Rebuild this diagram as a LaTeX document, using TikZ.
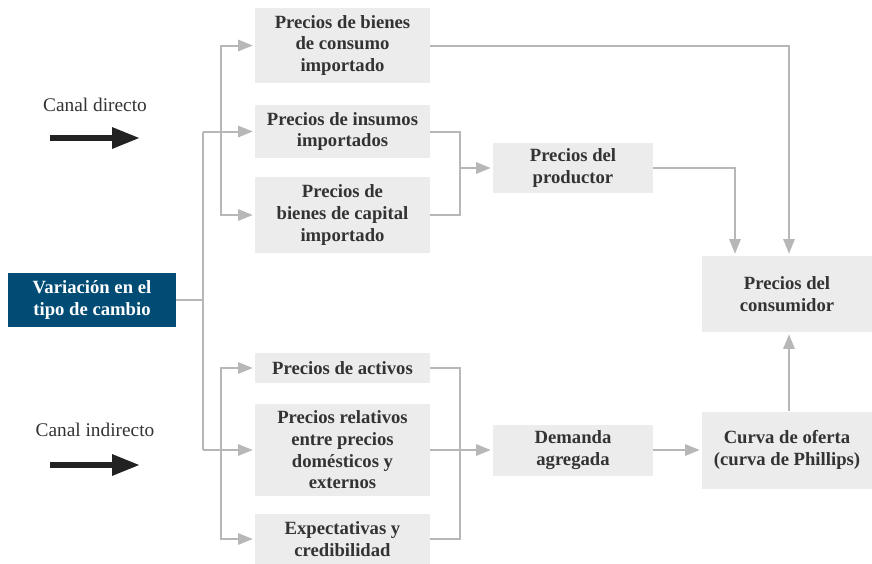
\documentclass[tikz,border=0pt]{standalone}
\usepackage{fontspec}
\setmainfont{Liberation Serif}
\usepackage{xcolor}
\definecolor{tcblue}{RGB}{0,76,117}
\definecolor{tcbox}{RGB}{236,236,236}
\definecolor{tcline}{RGB}{183,183,183}
\definecolor{tctext}{RGB}{51,51,51}
\definecolor{tcblack}{RGB}{34,34,34}
\usetikzlibrary{arrows.meta,positioning}

\begin{document}
\begin{tikzpicture}[
  x=0.75pt, y=-0.75pt,
  chanbox/.style={
    rectangle, inner sep=2pt,
    minimum width=131.25pt,
    fill=tcbox,
    font=\fontsize{14}{16.2}\selectfont\bfseries,
    align=center,
    text=tctext
  },
  srcbox/.style={chanbox, fill=tcblue, text=white, minimum width=126pt, minimum height=40.5pt},
  link/.style={draw=tcline, line width=1.5pt},
  conn/.style={link, shorten >=1.5pt, -{Triangle[length=11pt, width=8.5pt]}},
  chanarrow/.style={draw=tcblack, line width=4.5pt, -{Triangle[length=21pt, width=15pt]}},
  chanlabel/.style={font=\fontsize{14.5}{17}\selectfont, text=tctext}
]
\useasboundingbox (0,0) rectangle (872,564);

% origen
\node[srcbox] (src) at (92,300) {Variación en el\\tipo de cambio};

% canal directo
\node[chanbox, minimum height=56.25pt] (bcons) at (342.5,45.5) {Precios de bienes\\de consumo\\importado};
\node[chanbox, minimum height=39.75pt] (binsu) at (342.5,131.5) {Precios de insumos\\importados};
\node[chanbox, minimum height=57pt]    (bcapi) at (342.5,215) {Precios de\\bienes de capital\\importado};
\node[chanbox, minimum width=120pt, minimum height=37.5pt] (prod) at (573,168) {Precios del\\productor};
\node[chanbox, minimum width=127.5pt, minimum height=57pt] (cons) at (787,294) {Precios del\\consumidor};

% canal indirecto
\node[chanbox, minimum height=22.5pt] (activ) at (342.5,368) {Precios de activos};
\node[chanbox, minimum height=69pt]   (relat) at (342.5,450) {Precios relativos\\entre precios\\domésticos y\\externos};
\node[chanbox, minimum height=37.5pt] (expec) at (342.5,539) {Expectativas y\\credibilidad};
\node[chanbox, minimum width=120pt, minimum height=38.25pt] (dem) at (573,450) {Demanda\\agregada};
\node[chanbox, minimum width=127.5pt, minimum height=57.75pt] (curva) at (787,450) {Curva de oferta\\(curva de Phillips)};

% leyenda
\node[chanlabel] (ldir) at (95,105) {Canal directo};
\coordinate (ldirA) at (50,138);
\coordinate (ldirB) at (140,138);
\draw[chanarrow] (ldirA) -- (ldirB);
\node[chanlabel] (lind) at (95,430) {Canal indirecto};
\coordinate (lindA) at (50,465);
\coordinate (lindB) at (140,465);
\draw[chanarrow] (lindA) -- (lindB);

% conectores de la izquierda
\coordinate (trunk) at (203,0);
\coordinate (fork) at (221,0);
\draw[link] (src.east) -- (src.east -| trunk);
\draw[link] (trunk |- binsu.west) -- (trunk |- relat.west);
\draw[conn] (trunk |- binsu.west) -- (binsu.west);
\draw[conn] (trunk |- relat.west) -- (relat.west);
\draw[conn] (fork |- bcapi.west) |- (bcons.west);
\draw[conn] (fork |- bcons.west) |- (bcapi.west);
\draw[conn] (fork |- expec.west) |- (activ.west);
\draw[conn] (fork |- activ.west) |- (expec.west);

% conectores de la derecha
\coordinate (mergeT) at (460,0);
\coordinate (mergeB) at (460,0);
\draw[link] (binsu.east) -| (mergeT |- bcapi.east) -- (bcapi.east);
\draw[conn] (mergeT |- prod.west) -- (prod.west);
\draw[link] (activ.east) -| (mergeB |- expec.east) -- (expec.east);
\draw[conn] (relat.east) -- (dem.west);
\draw[conn] (dem.east) -- (curva.west);
\draw[conn] (bcons.east) -| ([xshift=1.5pt]cons.north);
\draw[conn] (prod.east) -| ([xshift=-39pt]cons.north);
\draw[conn] ([xshift=1.5pt]curva.north) -- ([xshift=1.5pt]cons.south);
\end{tikzpicture}
\end{document}
